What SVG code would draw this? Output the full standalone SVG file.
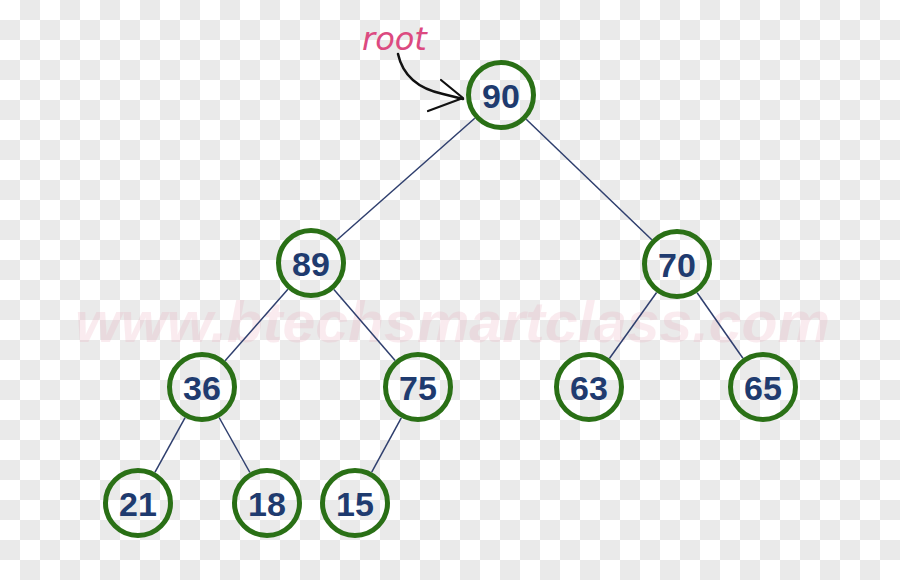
<svg xmlns="http://www.w3.org/2000/svg" width="900" height="580" viewBox="0 0 900 580">
  <defs>
    <pattern id="checker" width="40" height="40" patternUnits="userSpaceOnUse">
      <rect width="40" height="40" fill="#ffffff"/>
      <rect x="20" y="0" width="20" height="20" fill="#eaeaea"/>
      <rect x="0" y="20" width="20" height="20" fill="#eaeaea"/>
    </pattern>
    <style>
      .node circle { fill: none; stroke: #2a7016; stroke-width: 5; }
      .node text { font-family: "Liberation Sans", Arial, sans-serif; font-weight: bold; font-size: 34px; fill: #1f3b6f; text-anchor: middle; dominant-baseline: central; }
      .edge { stroke: #2f3f6e; stroke-width: 1.5; fill: none; }
    </style>
  </defs>
  <rect width="900" height="580" fill="url(#checker)"/>
  <text x="75" y="342" font-family="Liberation Sans, Arial, sans-serif" font-size="58" font-weight="bold" font-style="italic" fill="#e8a0b2" opacity="0.2" textLength="755" lengthAdjust="spacingAndGlyphs">www.btechsmartclass.com</text>

  <g id="root-label">
    <text x="362" y="50" font-family="DejaVu Sans, sans-serif" font-style="oblique" font-size="32" fill="#dc4a80">root</text>
    <path d="M398,54 C402,72 415,88 443,94 L463,99" fill="none" stroke="#111" stroke-width="2.5" stroke-linecap="round"/>
    <path d="M441,80 L463,98 L428,111" fill="none" stroke="#111" stroke-width="2.2" stroke-linecap="round" stroke-linejoin="round"/>
  </g>

  <g id="connectors">
    <line class="edge" x1="474.8" y1="118.2" x2="337.2" y2="239.8"/>
    <line class="edge" x1="526.2" y1="119.2" x2="651.8" y2="239.8"/>
    <line class="edge" x1="287.9" y1="289.3" x2="225.1" y2="360.7"/>
    <line class="edge" x1="333.9" y1="289.5" x2="395.1" y2="360.5"/>
    <line class="edge" x1="656.6" y1="292.5" x2="609.4" y2="358.5"/>
    <line class="edge" x1="697.1" y1="292.7" x2="742.9" y2="358.3"/>
    <line class="edge" x1="185.1" y1="417.6" x2="154.9" y2="472.4"/>
    <line class="edge" x1="219.1" y1="417.5" x2="249.9" y2="472.5"/>
    <line class="edge" x1="401.3" y1="417.8" x2="371.7" y2="472.2"/>
  </g>

  <g id="n90" class="node"><circle cx="501" cy="95" r="32.5"/><text x="501" y="96">90</text></g>
  <g id="n89" class="node"><circle cx="311" cy="263" r="32.5"/><text x="311" y="264">89</text></g>
  <g id="n70" class="node"><circle cx="677" cy="264" r="32.5"/><text x="677" y="265">70</text></g>
  <g id="n36" class="node"><circle cx="202" cy="387" r="32.5"/><text x="202" y="388">36</text></g>
  <g id="n75" class="node"><circle cx="418" cy="387" r="32.5"/><text x="418" y="388">75</text></g>
  <g id="n63" class="node"><circle cx="589" cy="387" r="32.5"/><text x="589" y="388">63</text></g>
  <g id="n65" class="node"><circle cx="763" cy="387" r="32.5"/><text x="763" y="388">65</text></g>
  <g id="n21" class="node"><circle cx="138" cy="503" r="32.5"/><text x="138" y="504">21</text></g>
  <g id="n18" class="node"><circle cx="267" cy="503" r="32.5"/><text x="267" y="504">18</text></g>
  <g id="n15" class="node"><circle cx="355" cy="503" r="32.5"/><text x="355" y="504">15</text></g>
</svg>
